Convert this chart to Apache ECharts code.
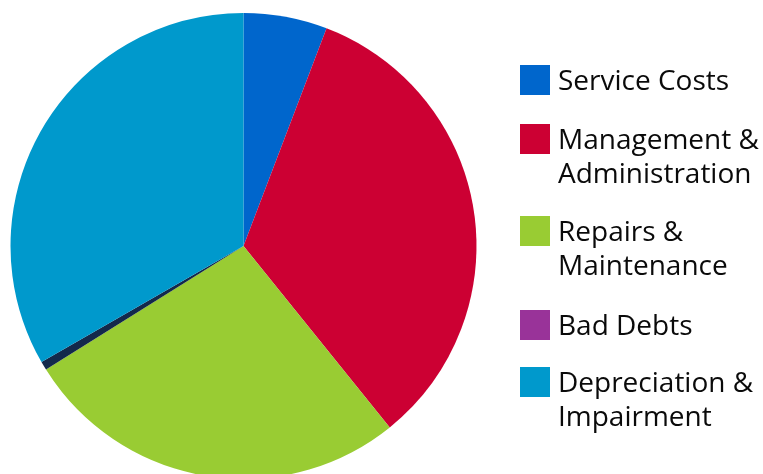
<!DOCTYPE html>
<html>
<head>
<meta charset="utf-8">
<script src="https://cdn.jsdelivr.net/npm/echarts@6/dist/echarts.min.js"></script>
<style>html,body{margin:0;padding:0;background:#fff}#c{width:763px;height:474px}</style>
</head>
<body>
<div id="c"></div>
<script>
const categories = ['Service Costs', 'Management & Administration', 'Repairs & Maintenance', 'Bad Debts', 'Depreciation & Impairment'];
const legendLines = [['Service Costs'], ['Management &', 'Administration'], ['Repairs &', 'Maintenance'], ['Bad Debts'], ['Depreciation &', 'Impairment']];
const values = [5.8, 33.4, 26.9, 0.6, 33.3];
const sliceColors = ['#0066cc', '#cc0033', '#99cc33', '#13294b', '#0099cc'];
const legendColors = ['#0066cc', '#cc0033', '#99cc33', '#993399', '#0099cc'];

const iconTops = [65, 124, 216, 310, 367];
const FONT = 'Open Sans';
const LH = 34;
const SHIFT = 2.5; // first text line sits this much below the icon centre

const legends = categories.map((name, i) => {
  const lines = legendLines[i];
  const n = lines.length;
  const spacer = 2 * SHIFT + (n - 1) * LH;
  const total = spacer + n * LH;
  const label = '{p|\u00a0}\n' + lines.map(l => '{t|' + l + '}').join('\n');
  return {
    orient: 'vertical',
    left: 520,
    top: iconTops[i] + 15 - total / 2,
    padding: 0,
    icon: 'rect',
    itemWidth: 30,
    itemHeight: 30,
    selectedMode: false,
    data: [{ name: name, itemStyle: { color: legendColors[i] } }],
    formatter: () => label,
    textStyle: {
      fontFamily: FONT,
      fontSize: 28,
      color: '#0a0a0a',
      padding: [0, 0, 0, 3],
      rich: {
        p: { fontSize: 1, lineHeight: spacer, height: spacer },
        t: { fontFamily: FONT, fontSize: 28, color: '#0a0a0a', lineHeight: LH, height: LH }
      }
    }
  };
});

const chart = echarts.init(document.getElementById('c'), null, { renderer: 'canvas' });
chart.setOption({
  animation: false,
  legend: legends,
  series: [{
    type: 'pie',
    center: [243.5, 246],
    radius: 233,
    startAngle: 90,
    clockwise: true,
    label: { show: false },
    labelLine: { show: false },
    emphasis: { disabled: true },
    itemStyle: { borderWidth: 0 },
    data: categories.map((n, i) => ({ name: n, value: values[i], itemStyle: { color: sliceColors[i] } }))
  }]
});
</script>
</body>
</html>
